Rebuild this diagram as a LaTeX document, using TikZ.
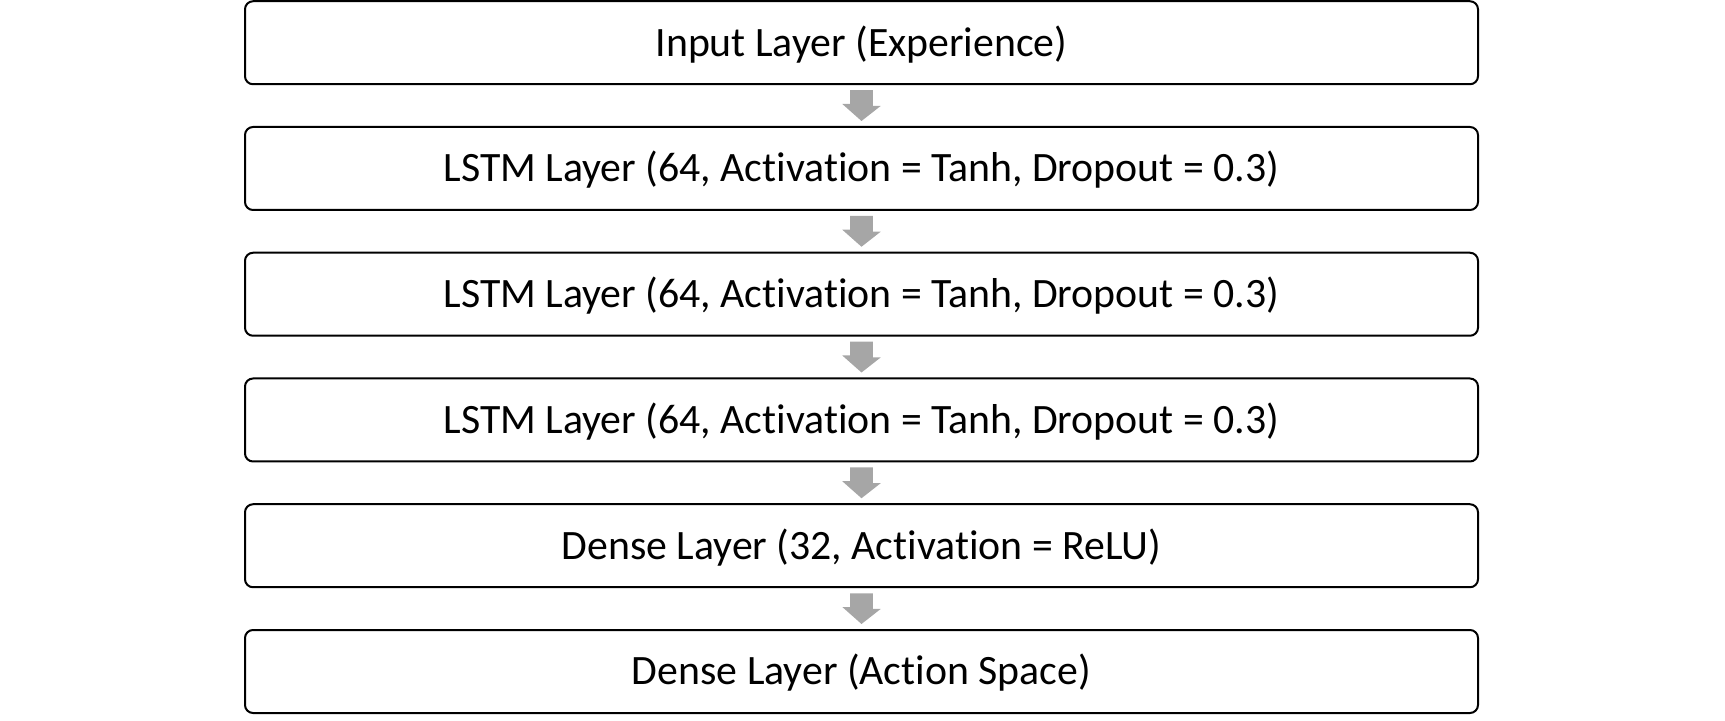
\documentclass[tikz,border=0pt]{standalone}
\usepackage{fontspec}
\setmainfont{Carlito}[RawFeature=-liga]

\tikzset{
  layerbox/.style={draw, line width=1pt, rounded corners=4pt, minimum width=616.5pt,
    minimum height=41.5pt, inner sep=0pt, text height=13.4pt, text depth=0pt,
    font=\fontsize{20.9}{24}\selectfont},
  flowarrow/.style={fill={rgb,255:red,166;green,166;blue,166}},
}

\begin{document}
\begin{tikzpicture}[x=0.5pt,y=0.5pt,yscale=-1,xscale=1]
\useasboundingbox (0,0) rectangle (1725,721);

% Layer Boxes
\node [layerbox] (input) at (861.5,42.75) {Input Layer (Experience)};
\node [layerbox] (lstma) at (861.5,168.5) {LSTM Layer (64, Activation = Tanh, Dropout = 0.3)};
\node [layerbox] (lstmb) at (861.5,294.25) {LSTM Layer (64, Activation = Tanh, Dropout = 0.3)};
\node [layerbox] (lstmc) at (861.5,420) {LSTM Layer (64, Activation = Tanh, Dropout = 0.3)};
\node [layerbox] (densea) at (861.5,545.75) {Dense Layer (32, Activation = ReLU)};
\node [layerbox] (output) at (861.5,671.5) {Dense Layer (Action Space)};

% Block Arrows
\foreach \a/\b in {input/lstma,lstma/lstmb,lstmb/lstmc,lstmc/densea,densea/output}
  \fill [flowarrow] ([xshift=-5.65pt,yshift=2.5pt]\a.south) -- ++(11.3pt,0) -- ++(0,7.85pt)
    -- ++(3.95pt,0) -- ([yshift=-2.5pt]\b.north) -- ++(-9.6pt,-8.5pt) -- ++(3.95pt,0) -- cycle;

\end{tikzpicture}
\end{document}
